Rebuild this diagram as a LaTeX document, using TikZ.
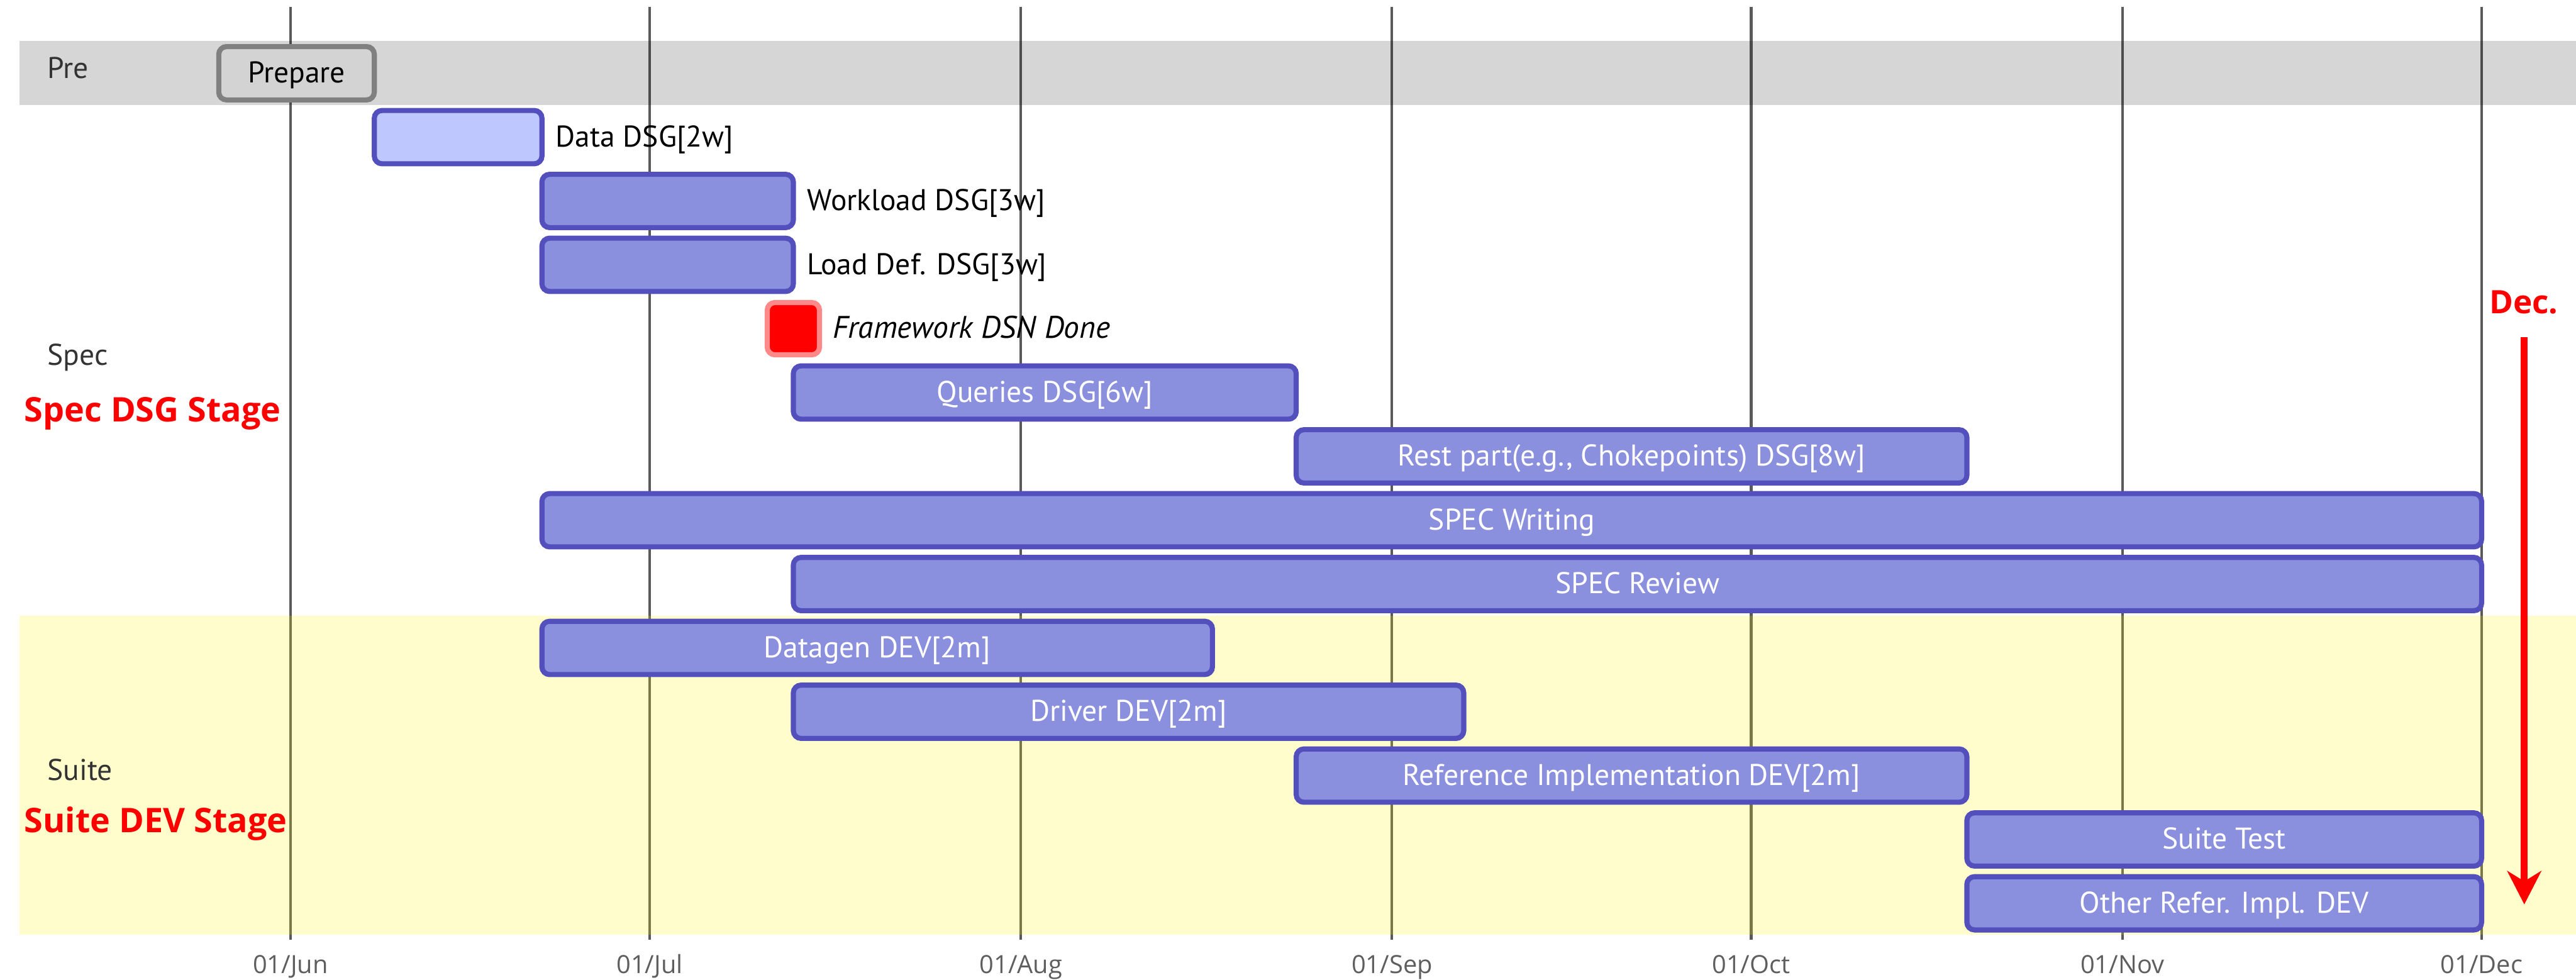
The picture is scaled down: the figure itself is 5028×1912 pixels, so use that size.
\documentclass[tikz,border=0pt]{standalone}
\usepackage{fontspec}
\usetikzlibrary{arrows.meta}
\newfontfamily\taskfont{PT Sans}
\newfontfamily\labelfont{Open Sans}

\definecolor{barline}{HTML}{534FBC}
\definecolor{barfill}{HTML}{8A90DD}
\definecolor{activefill}{HTML}{BFC7FF}
\definecolor{donefill}{HTML}{D3D3D3}
\definecolor{donestroke}{HTML}{808080}
\definecolor{critstroke}{HTML}{FF8888}
\definecolor{gridcol}{HTML}{5A5A5A}
\definecolor{sectiontext}{HTML}{333333}
\definecolor{axistext}{HTML}{5E5E5E}
\definecolor{yellowband}{HTML}{FFF400}

% one task bar, given its style, start x, end x and row centre y
\newcommand{\ganttbar}[4]{\draw[#1] (#2,{#4-52}) rectangle (#3,{#4+52});}

\begin{document}
\begin{tikzpicture}[x=0.01cm,y=-0.01cm,
  gridline/.style={draw=gridcol,line width=0.05cm},
  taskbar/.style={draw=barline,fill=barfill,line width=0.1cm,rounded corners=0.15cm},
  activebar/.style={taskbar,fill=activefill},
  donebar/.style={draw=donestroke,fill=donefill,line width=0.1cm,rounded corners=0.15cm},
  critms/.style={draw=critstroke,fill=red,line width=0.1cm,rounded corners=0.15cm},
  tasktext/.style={inner sep=0pt,font=\taskfont\fontsize{16.6pt}{20pt}\selectfont},
  intext/.style={tasktext,text=white,anchor=base},
  outtext/.style={tasktext,text=black,anchor=base west},
  sectitle/.style={inner sep=0pt,anchor=base west,text=sectiontext,
    font=\taskfont\fontsize{16.6pt}{20pt}\selectfont},
  stagelabel/.style={inner sep=0pt,anchor=base west,text=red,
    font=\labelfont\bfseries\fontsize{18.8pt}{22pt}\selectfont},
  axislabel/.style={inner sep=0pt,anchor=base,text=axistext,
    font=\labelfont\fontsize{13.9pt}{16pt}\selectfont},
  decarrow/.style={draw=red,line width=0.13cm,
    -{Stealth[length=0.65cm,width=0.66cm,inset=0.2cm]}}]

\useasboundingbox (0,0) rectangle (5028,1912);

% month grid
\foreach \gx in {567,1268,1992.6,2717,3418,4142.6,4843.7}
  \draw[gridline] (\gx,14) -- (\gx,1834);

% section bands
\fill[black,fill opacity=0.16] (38,80) rectangle (5028,205);
\fill[yellowband,fill opacity=0.2] (38,1202) rectangle (5028,1824);

% axis labels
\node[axislabel] (jun) at (567,1900) {01/Jun};
\node[axislabel] (jul) at (1268,1900) {01/Jul};
\node[axislabel] (aug) at (1992.6,1900) {01/Aug};
\node[axislabel] (sep) at (2717,1900) {01/Sep};
\node[axislabel] (oct) at (3418,1900) {01/Oct};
\node[axislabel] (nov) at (4142.6,1900) {01/Nov};
\node[axislabel] (dec) at (4843.7,1900) {01/Dec};

% section titles
\node[sectitle] (pre) at (92,153) {Pre};
\node[sectitle] (spec) at (92,713) {Spec};
\node[sectitle] (suite) at (92,1523) {Suite};
\node[stagelabel] (specstage) at (47,823) {Spec DSG Stage};
\node[stagelabel] (suitestage) at (47,1625) {Suite DEV Stage};

% Pre
\ganttbar{donebar}{427}{730.6}{143}
\node[intext,text=black] (prepare) at (578.8,161.5) {Prepare};

% Spec
\ganttbar{activebar}{730.6}{1057.8}{267.6}
\node[outtext] (datadsg) at (1084,286.1) {Data DSG[2w]};
\ganttbar{taskbar}{1057.8}{1548.5}{392.2}
\node[outtext] (workload) at (1575,410.7) {Workload DSG[3w]};
\ganttbar{taskbar}{1057.8}{1548.5}{516.8}
\node[outtext] (loaddef) at (1575,535.3) {Load Def. DSG[3w]};
\draw[critms] (1497.5,590.4) rectangle (1599.5,692.4);
\node[outtext,font=\taskfont\itshape\fontsize{17.3pt}{20pt}\selectfont] (framework) at (1625,659.9) {Framework DSN Done};
\ganttbar{taskbar}{1548.5}{2530}{766}
\node[intext] (queries) at (2039.25,784.5) {Queries DSG[6w]};
\ganttbar{taskbar}{2530}{3839}{890.6}
\node[intext] (rest) at (3184.5,909.1) {Rest part(e.g., Chokepoints) DSG[8w]};
\ganttbar{taskbar}{1057.8}{4843.7}{1015.2}
\node[intext] (writing) at (2950.75,1033.7) {SPEC Writing};
\ganttbar{taskbar}{1548.5}{4843.7}{1139.8}
\node[intext] (review) at (3196.1,1158.3) {SPEC Review};

% Suite
\ganttbar{taskbar}{1057.8}{2366.5}{1264.4}
\node[intext] (datagen) at (1712.15,1282.9) {Datagen DEV[2m]};
\ganttbar{taskbar}{1548.5}{2857}{1389}
\node[intext] (driver) at (2202.75,1407.5) {Driver DEV[2m]};
\ganttbar{taskbar}{2530}{3839}{1513.6}
\node[intext] (refimpl) at (3184.5,1532.1) {Reference Implementation DEV[2m]};
\ganttbar{taskbar}{3839}{4843.7}{1638.2}
\node[intext] (suitetest) at (4341.35,1656.7) {Suite Test};
\ganttbar{taskbar}{3839}{4843.7}{1762.8}
\node[intext] (otherref) at (4341.35,1781.3) {Other Refer. Impl. DEV};

% deadline marker
\node[inner sep=0pt,anchor=base,text=red,font=\labelfont\bfseries\fontsize{17.9pt}{21pt}\selectfont] (deadline) at (4926,612) {Dec.};
\coordinate (arrowtop) at (4927,658);
\coordinate (arrowtip) at (4927,1765);
\draw[decarrow] (arrowtop) -- (arrowtip);

\end{tikzpicture}
\end{document}
